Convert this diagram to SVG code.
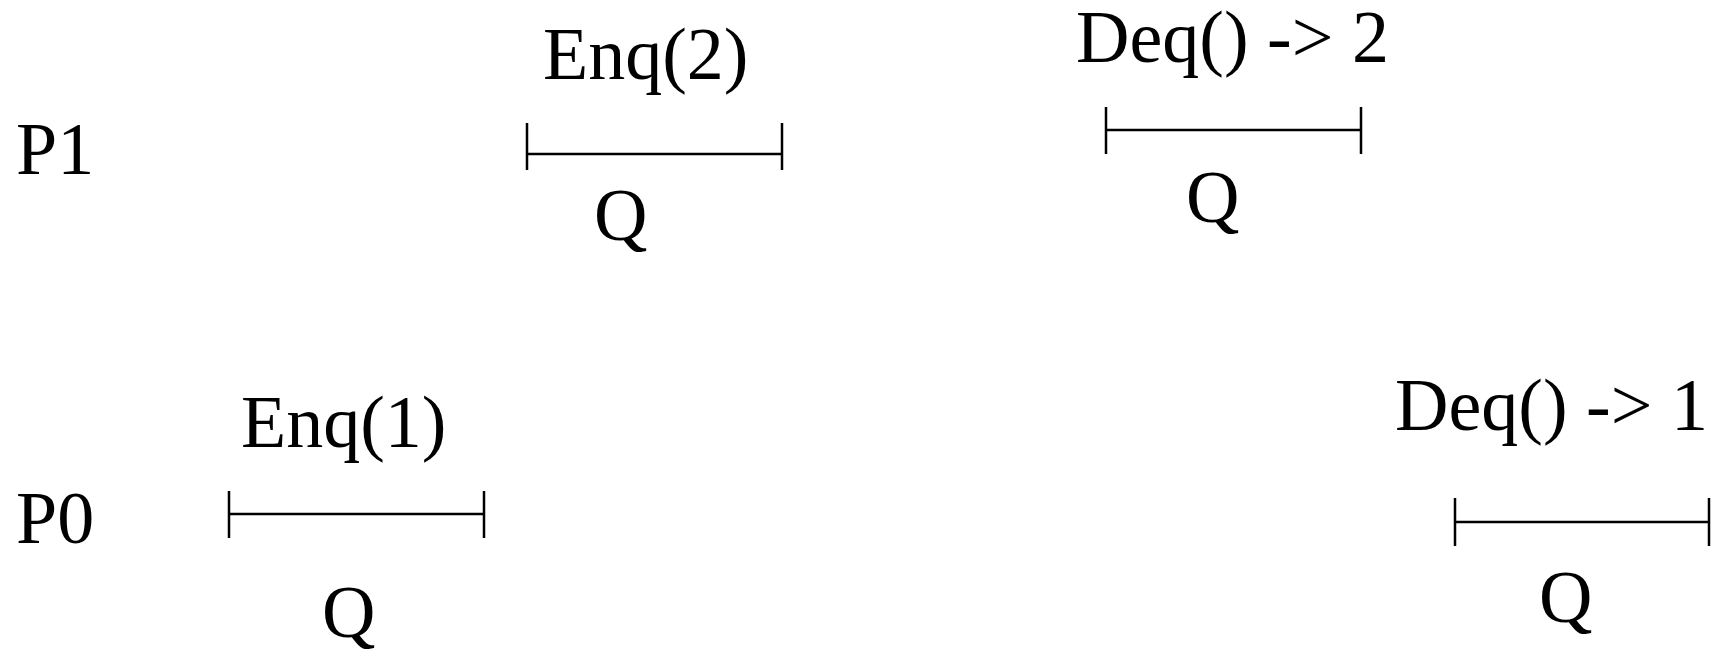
<svg xmlns="http://www.w3.org/2000/svg" width="1713" height="653" viewBox="0 0 1713 653">
<style>
text{font-family:"Liberation Serif","Times New Roman",serif;font-size:74px;fill:#000}
.bar{stroke:#000;stroke-width:2.5;fill:none}
</style>
<rect width="1713" height="653" fill="#fff"/>
<g id="label-P1"><text x="16" y="174">P1</text></g>
<g id="label-P0"><text x="16" y="543">P0</text></g>
<g id="op-enq2">
<text x="543" y="79">Enq(2)</text>
<text x="594" y="240">Q</text>
</g>
<g id="op-deq2">
<text x="1076" y="62">Deq() -&gt; 2</text>
<text x="1186" y="222">Q</text>
</g>
<g id="op-enq1">
<text x="241" y="447">Enq(1)</text>
<text x="322" y="637">Q</text>
</g>
<g id="op-deq1">
<text x="1395" y="430">Deq() -&gt; 1</text>
<text x="1539" y="622">Q</text>
</g>
<g id="connectors" class="bar">
<path d="M527 123V170M527 154H782M782 123V170"/>
<path d="M1106 107V154M1106 130H1361M1361 107V154"/>
<path d="M229 491V538M229 514H484M484 491V538"/>
<path d="M1455 498V546M1455 522H1709M1709 498V546"/>
</g>
</svg>
